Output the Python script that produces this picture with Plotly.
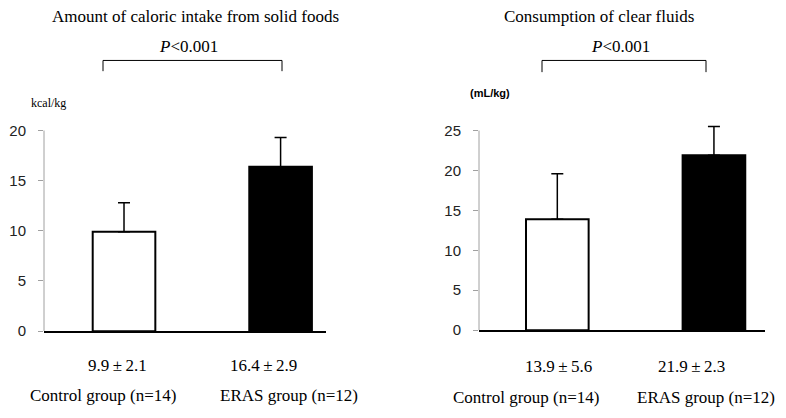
import plotly.graph_objects as go

groups = ["Control group (n=14)", "ERAS group (n=12)"]
kcal_mean = [9.9, 16.4]
kcal_err = [2.9, 2.9]
fluid_mean = [13.9, 21.9]
fluid_err = [5.7, 3.6]
kcal_labels = ["9.9\u2009\u00b1\u20092.1", "16.4\u2009\u00b1\u20092.9"]
fluid_labels = ["13.9\u2009\u00b1\u20095.6", "21.9\u2009\u00b1\u20092.3"]
kcal_ticks = [0, 5, 10, 15, 20]
fluid_ticks = [0, 5, 10, 15, 20, 25]
bar_fill = ["white", "black"]

W, H = 786, 418
def px(x):
    return x / W
def py(y):
    return 1 - y / H

SERIF = "Liberation Serif, Times New Roman, serif"
SANS = "Liberation Sans, Arial, sans-serif"

fig = go.Figure()
xpos = [0, 1]
fig.add_trace(go.Bar(
    x=xpos, y=kcal_mean, width=0.40,
    marker=dict(color=bar_fill, line=dict(color="black", width=2)),
    error_y=dict(type="data", array=kcal_err, arrayminus=[0, 0], symmetric=False,
                 color="black", thickness=1.5, width=6),
    xaxis="x", yaxis="y", showlegend=False, hoverinfo="skip"))
fig.add_trace(go.Bar(
    x=xpos, y=fluid_mean, width=0.40,
    marker=dict(color=bar_fill, line=dict(color="black", width=2)),
    error_y=dict(type="data", array=fluid_err, arrayminus=[0, 0], symmetric=False,
                 color="black", thickness=1.5, width=6),
    xaxis="x2", yaxis="y2", showlegend=False, hoverinfo="skip"))

xax = dict(showticklabels=False, ticks="", showgrid=False, zeroline=False,
           showline=True, linecolor="black", linewidth=2, fixedrange=True)
yax = dict(showgrid=False, zeroline=False, showline=False,
           ticks="outside", ticklen=5, tickcolor="#a0a0a0", tickwidth=1,
           ticklabelstandoff=9,
           tickfont=dict(family=SANS, size=15, color="#222"), fixedrange=True)

Y1_TOP = 20.6
Y2_TOP = 25.8
fig.update_layout(
    width=W, height=H, margin=dict(l=0, r=0, t=0, b=0), autosize=False,
    paper_bgcolor="white", plot_bgcolor="white",
    xaxis=dict(**xax, domain=[px(44), px(326)], range=[-0.511, 1.29]),
    yaxis=dict(**yax, domain=[py(337), py(337 - Y1_TOP * 10.3)], range=[0, Y1_TOP], tickvals=kcal_ticks),
    xaxis2=dict(**xax, domain=[px(479), px(765)], range=[-0.50, 1.326], anchor="y2"),
    yaxis2=dict(**yax, domain=[py(336), py(336 - Y2_TOP * 8.2)], range=[0, Y2_TOP], tickvals=fluid_ticks, anchor="x2"),
)

ann = []
def text(x, y, s, size=17, family=SERIF, **kw):
    ann.append(dict(x=px(x), y=py(y), xref="paper", yref="paper", text=s, showarrow=False,
                    xanchor="center", yanchor="middle",
                    font=dict(family=family, size=size, color="black"), **kw))

# titles
text(195, 14, "Amount of caloric intake from solid foods")
text(599, 14, "Consumption of clear fluids")
# p values
text(188, 45, "<i>P</i>&lt;0.001")
text(620, 45, "<i>P</i>&lt;0.001")
# units
text(48, 103, "kcal/kg", size=12)
text(490, 92, "<b>(mL/kg)</b>", size=11, family=SANS)
# value labels
text(117, 372, kcal_labels[0])
text(263, 372, kcal_labels[1])
text(558, 373, fluid_labels[0])
text(691, 373, fluid_labels[1])
# group labels
text(103, 403, groups[0])
text(289, 403, groups[1])
text(526, 405, groups[0])
text(706, 405, groups[1])

shapes = []
def line(x0, y0, x1, y1):
    shapes.append(dict(type="line", xref="paper", yref="paper", x0=px(x0), y0=py(y0),
                       x1=px(x1), y1=py(y1), line=dict(color="black", width=1)))
# brackets
line(103, 59, 282, 59); line(103, 59, 103, 70); line(282, 59, 282, 70)
line(542, 59, 706, 59); line(542, 59, 542, 71); line(706, 59, 706, 71)
# y axis lines spanning the tick range only
shapes.append(dict(type="line", xref="x domain", yref="y", x0=0, x1=0, y0=kcal_ticks[0], y1=kcal_ticks[-1],
                   line=dict(color="#a0a0a0", width=1), layer="below"))
shapes.append(dict(type="line", xref="x2 domain", yref="y2", x0=0, x1=0, y0=fluid_ticks[0], y1=fluid_ticks[-1],
                   line=dict(color="#a0a0a0", width=1), layer="below"))

fig.update_layout(annotations=ann, shapes=shapes)

fix_page = (
    "var de=document.documentElement, b=document.body;"
    "[de,b].forEach(function(e){e.style.margin='0';e.style.padding='0';e.style.overflow='hidden';});"
)
fig.write_html("out.html", config={"displayModeBar": False, "responsive": False},
               post_script=fix_page)
